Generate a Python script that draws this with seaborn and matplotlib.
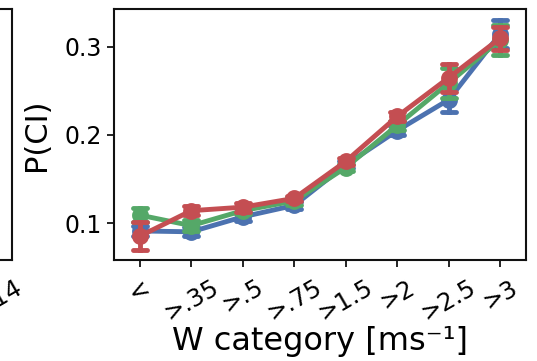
import matplotlib
matplotlib.use("Agg")
import matplotlib.pyplot as plt
import seaborn as sns
import pandas as pd

sns.set_style("ticks")
plt.rcParams["font.family"] = ["DejaVu Sans"]
plt.rcParams.update({"text.color": "black", "axes.labelcolor": "black",
                     "xtick.color": "black", "ytick.color": "black"})

# W-category bins and P(CI) per group (mean and half-width of interval)
categories = ["<", ">.35", ">.5", ">.75", ">1.5", ">2", ">2.5", ">3"]
groups = ["g1", "g2", "g3"]
blue_mean = [0.091, 0.090, 0.107, 0.120, 0.166, 0.205, 0.240, 0.315]
blue_err = [0.006, 0.005, 0.005, 0.004, 0.004, 0.005, 0.014, 0.016]
green_mean = [0.109, 0.097, 0.114, 0.125, 0.163, 0.211, 0.259, 0.308]
green_err = [0.008, 0.006, 0.004, 0.004, 0.004, 0.005, 0.017, 0.017]
red_mean = [0.085, 0.114, 0.118, 0.128, 0.170, 0.221, 0.265, 0.310]
red_err = [0.016, 0.005, 0.005, 0.003, 0.004, 0.005, 0.016, 0.013]
colors = ["#4C72B0", "#55A868", "#C44E52"]

# two rows per point (lower/upper bound): their mean is the point,
# their full range is the interval
rows = []
for g, means, errs in zip(groups, [blue_mean, green_mean, red_mean],
                          [blue_err, green_err, red_err]):
    for c, m, e in zip(categories, means, errs):
        rows.append({"W": c, "group": g, "p": m - e})
        rows.append({"W": c, "group": g, "p": m + e})
df = pd.DataFrame(rows)

fig = plt.figure(figsize=(5.37, 3.61), dpi=100)

# neighbouring panel (only its right edge is in frame)
ax0 = fig.add_axes([-0.6, 0.2798, 0.6223, 0.6952])
ax0.set_xlim(0, 14.6)
ax0.set_xticks([14])
ax0.set_xticklabels([">14"], rotation=30, ha="center", fontsize=17.5)
ax0.set_yticks([])

ax = fig.add_axes([0.2123, 0.2798, 0.7672, 0.6952])
sns.pointplot(data=df, x="W", y="p", hue="group", order=categories,
              hue_order=groups, palette=colors, estimator="mean",
              errorbar=("pi", 100), capsize=0.28, markers="o",
              markersize=9.5, linewidth=3.5, err_kws={"linewidth": 3.5},
              dodge=False, legend=False, ax=ax)

ax.set_ylim(0.058, 0.343)
ax.set_xlim(-0.5, 7.5)
ax.set_yticks([0.1, 0.2, 0.3])
ax.set_yticklabels(["0.1", "0.2", "0.3"])
ax.tick_params(axis="y", labelsize=17, length=5, width=1.2)
ax.tick_params(axis="x", labelsize=17.5, length=5, width=1.2, pad=6)
ax0.tick_params(axis="x", length=5, width=1.2, pad=6)
plt.setp(ax.get_xticklabels(), rotation=30, ha="center")
ax.set_xlabel("W category [ms\u207b\u00b9]", fontsize=23, labelpad=0)
ax.set_ylabel("P(CI)", fontsize=22, labelpad=10)

for a in (ax, ax0):
    for s in a.spines.values():
        s.set_visible(True)
        s.set_linewidth(1.5)
        s.set_color("#111111")

fig.savefig("out.png", dpi=100)
